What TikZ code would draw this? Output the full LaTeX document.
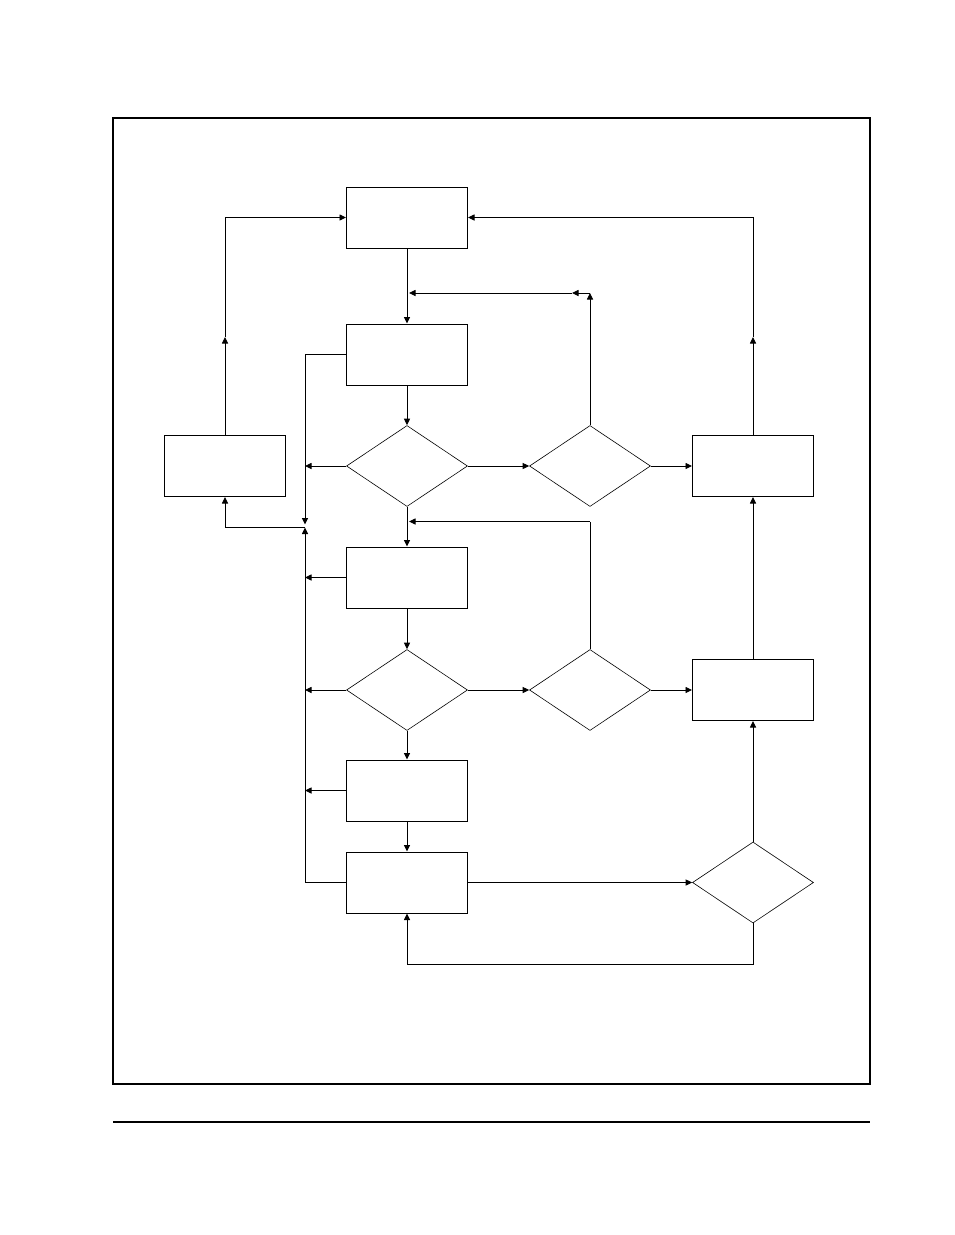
\documentclass[tikz,border=0pt]{standalone}
\usetikzlibrary{shapes.geometric,arrows.meta}
\begin{document}
\begin{tikzpicture}[x=1pt,y=-1pt,line width=0.9pt,
    box_node/.style={rectangle,draw,line width=1pt,minimum width=121pt,minimum height=61pt,inner sep=0pt},
    dec_node/.style={diamond,draw,line width=0.6pt,minimum width=121pt,minimum height=81pt,inner sep=0pt},
    arr/.style={-{Triangle[length=6.5pt,width=6pt]}}]

    \useasboundingbox (0,0) rectangle (954,1235);
    \draw[line width=1.3pt] (113,118) rectangle (870,1084);
    \draw[line width=2.2pt] (870,118) -- (870,1084);
    \draw[line width=1.2pt] (113,1122) -- (870,1122);

	\node[box_node] (1)   at (407,217.5) {};
    \node[box_node] (2)   at (407,354.5) {};
    \node[dec_node] (3)   at (407,466) {};
    \node[dec_node] (4)   at (590,466) {};
    \node[box_node] (5)   at (225,466) {};
    \node[box_node] (6)   at (753,466) {};
    \node[box_node] (7)   at (407,577.5) {};
    \node[dec_node] (8)   at (407,690) {};
    \node[dec_node] (9)   at (590,690) {};
    \node[box_node] (10)  at (753,690) {};
    \node[box_node] (11)  at (407,790.5) {};
    \node[box_node] (12)  at (407,882.5) {};
    \node[dec_node] (13)  at (753,882.5) {};

    \coordinate (a) at (409,293);
    \coordinate (b) at (590,293);
    \coordinate (c) at (572,293);
    \coordinate (d) at (409,521.5);
    \coordinate (e) at (590,521.5);
    \coordinate (g1) at (305,524.5);
    \coordinate (g2) at (305,527.5);
    \coordinate (h) at (225,337);
    \coordinate (k) at (753,337);
    \coordinate (m) at (753,964);
    \coordinate (l3) at (305,466);
    \coordinate (l7) at (305,577.5);
    \coordinate (l8) at (305,690);
    \coordinate (l11) at (305,790.5);

    \draw[arr] (1) -- (2);
    \draw[arr] (2) -- (3);
    \draw[arr] (3) -- (7);
    \draw[arr] (7) -- (8);
    \draw[arr] (8) -- (11);
    \draw[arr] (11) -- (12);
    \draw[arr] (3) -- (4);
    \draw[arr] (4) -- (6);
    \draw[arr] (8) -- (9);
    \draw[arr] (9) -- (10);
    \draw[arr] (12) -- (13);
    \draw[arr] (13) -- (10);
    \draw[arr] (10) -- (6);
    \draw[arr] (4) -- (b);
    \draw[arr] (b) -- (c);
    \draw[arr] (c) -- (a);
    \draw (9) -- (e);
    \draw[arr] (e) -- (d);
    \draw[arr] (13) -- (m) -| (12);
    \draw[arr] (2) -| (g1);
    \draw[arr] (12) -| (g2);
    \draw[arr] (g2) -| (5);
    \draw[arr] (3) -- (l3);
    \draw[arr] (7) -- (l7);
    \draw[arr] (8) -- (l8);
    \draw[arr] (11) -- (l11);
    \draw[arr] (5) -- (h);
    \draw[arr] (h) |- (1);
    \draw[arr] (6) -- (k);
    \draw[arr] (k) |- (1);

\end{tikzpicture}
\end{document}
